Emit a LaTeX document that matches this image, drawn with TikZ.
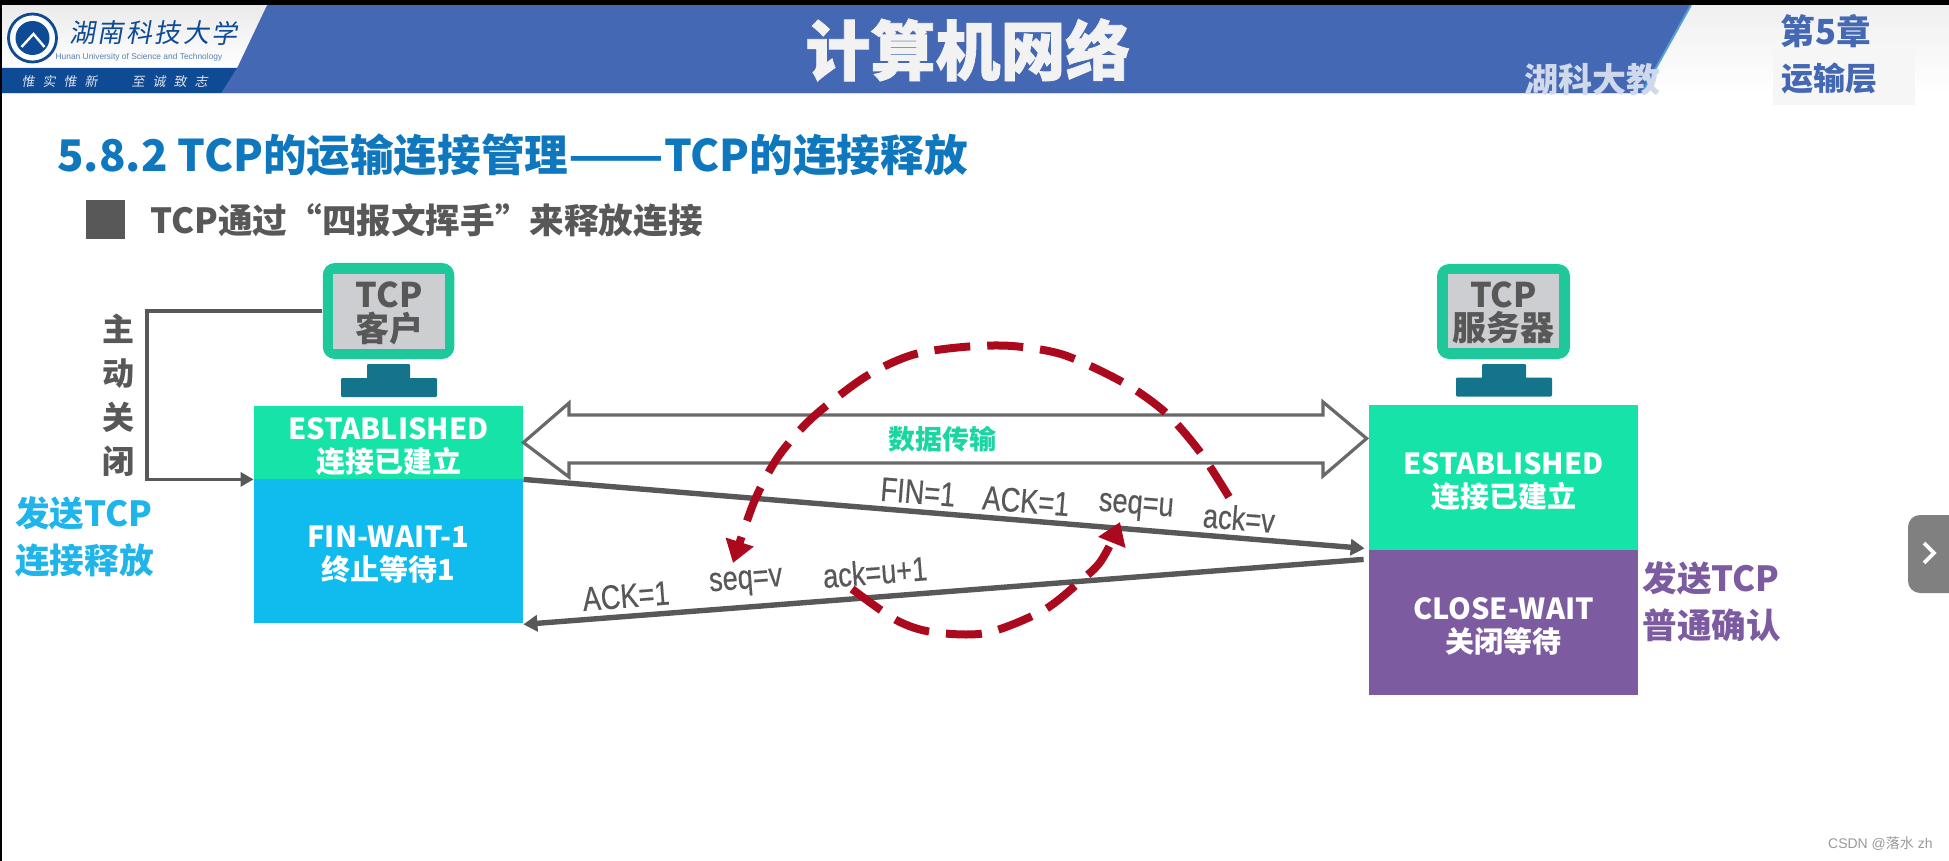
\documentclass[tikz,border=0pt]{standalone}
\usepackage{fontspec}
\usepackage{graphicx}
\setmainfont{Noto Sans CJK SC}
\newfontfamily\headfont[FakeBold=1.2]{Noto Sans CJK SC Black}
\newfontfamily\latinfont{Liberation Sans}
\newfontfamily\msgfont[FakeStretch=0.8,FakeBold=0.4]{Liberation Sans}
\newfontfamily\logofont[FakeSlant=0.18]{Noto Sans CJK SC}
\usetikzlibrary{calc,arrows.meta}

\definecolor{bandblue}{HTML}{4468B4}
\definecolor{darkband}{HTML}{0F4A94}
\definecolor{titleblue}{HTML}{0F77BE}
\definecolor{textgray}{HTML}{585858}
\definecolor{estgreen}{HTML}{16E3A8}
\definecolor{waitblue}{HTML}{10BBEE}
\definecolor{sendblue}{HTML}{1FB4EA}
\definecolor{closepurple}{HTML}{7D5BA0}
\definecolor{monitorgreen}{HTML}{1FC89A}
\definecolor{datagreen}{HTML}{1CD6A2}
\definecolor{screengray}{HTML}{CDCED1}
\definecolor{standteal}{HTML}{13748C}
\definecolor{circlered}{HTML}{AB0A1E}
\definecolor{navgray}{HTML}{808080}

\tikzset{
    statebox/.style={inner sep=0pt},
    statetext/.style={inner sep=0pt, yshift=-1.8pt, align=center, text=white, font=\fontsize{14.5}{16.5}\selectfont\bfseries},
    monitorbox/.style={fill=monitorgreen, rounded corners=6pt, inner sep=0pt},
    screenbox/.style={fill=screengray, inner sep=0pt},
    screentext/.style={inner sep=0pt, yshift=-0.8pt, align=center, text=textgray, font=\fontsize{17}{16.8}\selectfont\bfseries},
    standbox/.style={fill=standteal, inner sep=0pt, rounded corners=0.6pt},
    msglabel/.style={inner sep=0pt, text=textgray, font=\msgfont\fontsize{17}{18}\selectfont},
    sidelabel/.style={inner sep=0pt, align=left, font=\fontsize{17.3}{23.5}\selectfont\bfseries},
    closechar/.style={inner sep=0pt, text=textgray, font=\fontsize{16}{16}\selectfont\bfseries},
    msgline/.style={draw=textgray, line width=2.7pt, -{Triangle[length=7pt,width=8pt]}},
    redarc/.style={draw=circlered, line width=4pt, dash pattern=on 18pt off 8.5pt, -{Triangle[length=11pt,width=14pt]}},
}

\begin{document}
\begin{tikzpicture}[x=0.5pt,y=-0.5pt]
    \useasboundingbox (0,0) rectangle (1949,861);
    \fill[white] (0,0) rectangle (1949,861);
    % header band
    \fill[bandblue] (0,5) rectangle (1949,93);
    \shade[top color=black!6, bottom color=white] (1691,5) -- (1949,5) -- (1949,93) -- (1642,93) -- cycle;
    \draw[titleblue!70, line width=1pt] (1691,5) -- (1642,93);
    \fill[gray!7] (1773,50) rectangle (1915,105);
    \shade[top color=black!8, bottom color=white] (2,5) -- (267,5) -- (237,68) -- (2,68) -- cycle;
    \fill[darkband] (2,68) -- (237,68) -- (221,93) -- (2,93) -- cycle;
    \fill[black] (0,0) rectangle (1949,5);
    \fill[black] (0,0) rectangle (1.5,861);
    \draw[cyan!25, line width=0.8pt] (2,93.5) -- (1642,93.5);
    % logo
    \node[circle, draw=darkband, line width=1.4pt, fill=white, minimum size=24pt, inner sep=0pt] (emblem) at (32.5,38) {};
    \fill[darkband] (emblem.center) circle (8.5pt);
    \draw[white, line width=1.2pt] ($(emblem.center)+(-11,9)$) -- ($(emblem.center)+(1,-4)$) -- ($(emblem.center)+(12,9)$);
    \foreach \ch [count=\i] in {湖,南,科,技,大,学}
        \node[inner sep=0pt, text=darkband, font=\logofont\fontsize{13}{14}\selectfont] (logo\i) at ({82+(\i-1)*28.5},33) {\ch};
    \node[inner sep=0pt, text=darkband!70, font=\latinfont\fontsize{4.2}{5}\selectfont] (logoen) at (139,57) {Hunan University of Science and Technology};
    \foreach \ch [count=\i] in {惟,实,惟,新}
        \node[inner sep=0pt, text=white!85!darkband, font=\logofont\fontsize{6.5}{7}\selectfont] (mottoa\i) at ({28+(\i-1)*21},81.5) {\ch};
    \foreach \ch [count=\i] in {至,诚,致,志}
        \node[inner sep=0pt, text=white!85!darkband, font=\logofont\fontsize{6.5}{7}\selectfont] (mottob\i) at ({138+(\i-1)*21},81.5) {\ch};
    % header texts
    \node[inner sep=0pt, text=black!5, font=\headfont\fontsize{32.5}{33}\selectfont] (course) at (968,50) {计算机网络};
    \node[inner sep=0pt, anchor=west, text=white!75!bandblue, font=\fontsize{17}{18}\selectfont\bfseries] (mark) at (1524,80) {湖科大教};
    \node[inner sep=0pt, text=bandblue, font=\fontsize{17.3}{18}\selectfont\bfseries] (chapter) at (1826,31) {第5章};
    \node[inner sep=0pt, text=bandblue, font=\fontsize{16}{17}\selectfont\bfseries] (layer) at (1829,78) {运输层};
    % headings
    \node[inner sep=0pt, anchor=west, text=titleblue, font=\fontsize{21.8}{24}\selectfont\bfseries] (title) at (57,155) {5.8.2 TCP的运输连接管理\scalebox{1.28}[1]{——}TCP的连接释放};
    \node[inner sep=0pt, fill=textgray, minimum size=19.5pt] (bullet) at (105.5,219.5) {};
    \node[inner sep=0pt, anchor=west, text=textgray, font=\fontsize{17.3}{18}\selectfont\bfseries] (subtitle) at (150,220) {TCP通过“四报文挥手”来释放连接};
    % client
    \node[monitorbox, minimum width=65.75pt, minimum height=48pt] (monA) at (388.5,311) {};
    \node[screenbox, minimum width=56pt, minimum height=37.5pt] (scrA) at (389,311.5) {};
    \node[screentext] (scrAtext) at (scrA.center) {TCP\\客户};
    \node[standbox, minimum width=21.5pt, minimum height=7.5pt] (neckA) at (388.5,371.5) {};
    \node[standbox, minimum width=48pt, minimum height=9.5pt] (baseA) at (389,387.5) {};
    \node[statebox, fill=estgreen, minimum width=134.5pt, minimum height=36.5pt] (estA) at (388.5,442.5) {};
    \node[statebox, fill=waitblue, minimum width=134.5pt, minimum height=72pt] (finA) at (388.5,551) {};
    \node[statetext] (estAtext) at (estA.center) {ESTABLISHED\\连接已建立};
    \node[statetext] (finAtext) at (finA.center) {FIN-WAIT-1\\终止等待1};
    % server
    \node[monitorbox, minimum width=66.5pt, minimum height=47.5pt] (monB) at (1503.5,311.5) {};
    \node[screenbox, minimum width=55.5pt, minimum height=37pt] (scrB) at (1503.5,311) {};
    \node[screentext] (scrBtext) at (scrB.center) {TCP\\服务器};
    \node[standbox, minimum width=22pt, minimum height=7.5pt] (neckB) at (1504,371.5) {};
    \node[standbox, minimum width=48pt, minimum height=9.5pt] (baseB) at (1504,387) {};
    \node[statebox, fill=estgreen, minimum width=134.5pt, minimum height=72.5pt] (estB) at (1503.5,477.5) {};
    \node[statebox, fill=closepurple, minimum width=134.5pt, minimum height=72.5pt] (waitB) at (1503.5,622.5) {};
    \node[statetext] (estBtext) at (estB.center) {ESTABLISHED\\连接已建立};
    \node[statetext] (waitBtext) at (waitB.center) {CLOSE-WAIT\\关闭等待};
    % side labels
    \foreach \ch/\ypos [count=\i] in {主/329,动/374,关/417,闭/461}
        \node[closechar] (close\i) at (118,\ypos) {\ch};
    \node[sidelabel, text=sendblue, anchor=west] (sendA) at (15,537) {发送TCP\\连接释放};
    \node[sidelabel, text=closepurple, anchor=west] (sendB) at (1642,602) {发送TCP\\普通确认};
    \coordinate (turnA) at (147,400);
    \draw[draw=textgray, line width=1.9pt, -{Triangle[length=6.5pt,width=7pt]}] (monA.west) -| (turnA) |- (estA.south west);
    % data transfer arrow
    \coordinate (tipL) at (estA.east);
    \coordinate (tipR) at ($(estB.west)+(-2,-39)$);
    \draw[draw=textgray!90, line width=1.6pt, line join=miter] (tipL) -- (569,403) -- (569,415) -- (1323,415) -- (1323,402) -- (tipR) -- (1323,476) -- (1323,463) -- (569,463) -- (569,477) -- cycle;
    \node[inner sep=0pt, text=datagreen, font=\fontsize{13.5}{14}\selectfont\bfseries] (data) at (942,439) {数据传输};
    % messages
    \coordinate (finEnd) at ($(estB.south west)+(-4,-2)$);
    \coordinate (ackStart) at ($(estB.south west)+(-5,9)$);
    \draw[msgline] (estA.south east) -- (finEnd);
    \draw[msgline] (ackStart) -- ($(finA.south east)+(0,1)$);
    \node[msglabel, rotate=-4.6] (fin) at (918,492) {FIN=1};
    \node[msglabel, rotate=-4.6] (ackF) at (1026,501) {ACK=1};
    \node[msglabel, rotate=-4.6] (seqU) at (1136,508) {seq=u};
    \node[msglabel, rotate=-4.6] (ackV) at (1239,518) {ack=v};
    \node[msglabel, rotate=4.4] (ackB) at (626,596) {ACK=1};
    \node[msglabel, rotate=4.4] (seqV) at (746,583) {seq=v};
    \node[msglabel, rotate=4.4] (ackU) at (875,572) {ack=u+1};
    % red circle
    \draw[redarc] plot[smooth] coordinates {(1229,497) (1200,452) (1166,413) (1124,383) (1064,355) (1012,346) (963,347) (912,355) (865,377) (812,418) (778,457) (754,502) (733,563)};
    \draw[redarc] plot[smooth] coordinates {(852,589) (896,620) (932,632) (986,633) (1044,610) (1084,578) (1099.5,563) (1111,543) (1120,522)};
    % page furniture
    \fill[navgray, rounded corners=6pt] (1970,515) -- (1908,515) -- (1908,593) -- (1970,593) -- cycle;
    \node[inner sep=0pt] (next) at (1929,553) {};
    \draw[white, line width=1.8pt] ($(next)+(-5,-10)$) -- ($(next)+(5,0)$) -- ($(next)+(-5,10)$);
    \node[inner sep=0pt, anchor=east, text=gray!80, font=\latinfont\fontsize{7}{9}\selectfont] (csdn) at (1933,844) {CSDN @{\rmfamily 落水} zh};
\end{tikzpicture}
\end{document}
